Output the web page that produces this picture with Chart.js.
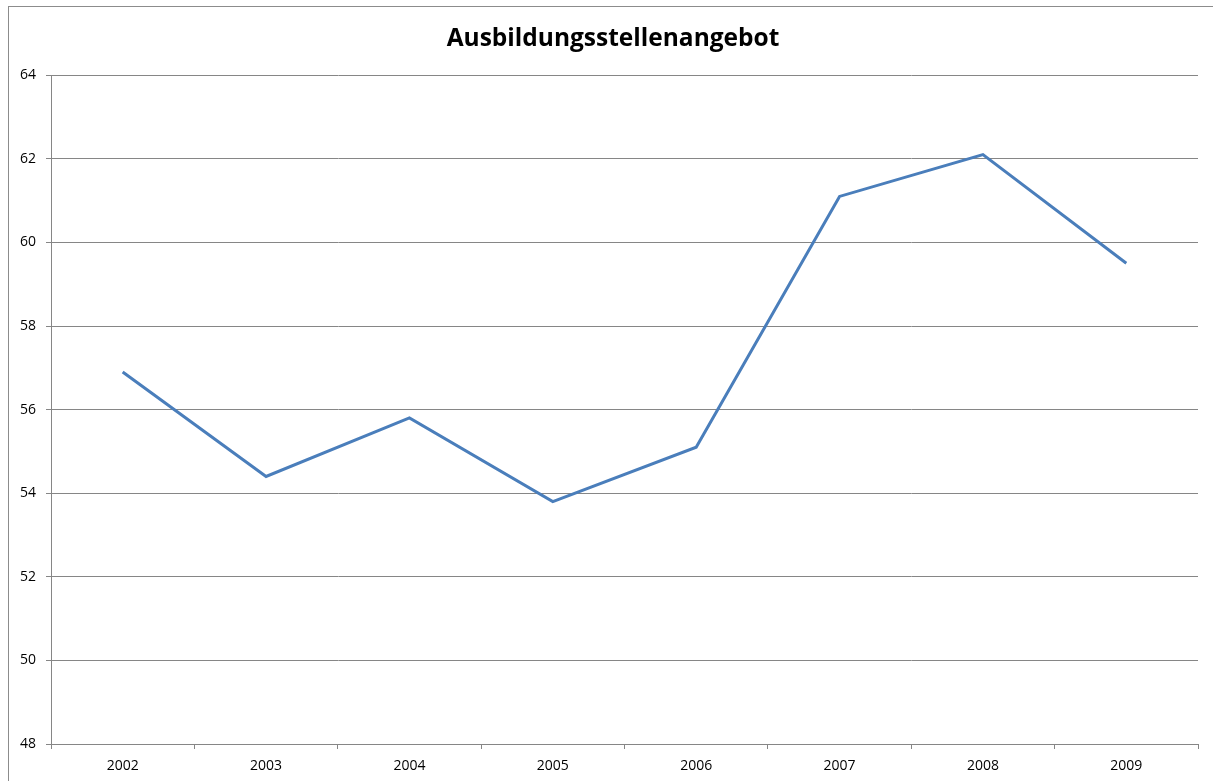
<!DOCTYPE html>
<html>
<head>
<meta charset="utf-8">
<script src="https://cdn.jsdelivr.net/npm/chart.js@4.4.1/dist/chart.umd.min.js"></script>
<style>
  body { margin: 0; background: #fff; }
  #wrap { position: relative; width: 1213px; height: 781px; overflow: hidden; }
  #frame { position: absolute; left: 8px; top: 6px; width: 1300px; height: 900px; border: 1px solid #8c8c8c; box-sizing: border-box; }
  canvas { position: absolute; left: 0; top: 0; }
</style>
</head>
<body>
<div id="wrap">
  <div id="frame"></div>
  <canvas id="lineChart" width="1213" height="781"></canvas>
</div>
<script>
// values
var years = ['2002', '2003', '2004', '2005', '2006', '2007', '2008', '2009'];
var offers = [56.9, 54.4, 55.8, 53.8, 55.1, 61.1, 62.1, 59.5];
var yMin = 48;
var yMax = 64;
var yStep = 2;

var axisGrey = '#868686';
var tickFont = { family: 'Open Sans', size: 14 };

// the original title sits a bit right of the canvas centre
var shiftTitle = {
  id: 'shiftTitle',
  afterLayout: function (chart) {
    if (chart.titleBlock) { chart.titleBlock.left += 28; }
  }
};

var ctx = document.getElementById('lineChart');
var myLineChart = new Chart(ctx, {
  type: 'line',
  data: {
    labels: years,
    datasets: [{
      label: 'Ausbildungsstellenangebot',
      data: offers,
      borderColor: '#4a7ebb',
      borderWidth: 3,
      pointRadius: 0,
      tension: 0,
      fill: false
    }]
  },
  plugins: [shiftTitle],
  options: {
    responsive: false,
    animation: false,
    layout: { padding: { left: 0, right: 15, top: 0, bottom: 0 } },
    plugins: {
      legend: { display: false },
      tooltip: { enabled: false },
      title: {
        display: true,
        text: 'Ausbildungsstellenangebot',
        color: '#000',
        font: { family: 'Open Sans', size: 24.5, weight: 'bold' },
        padding: { top: 24, bottom: 21.8 }
      }
    },
    scales: {
      x: {
        offset: true,
        grid: {
          offset: true,
          drawOnChartArea: false,
          drawTicks: true,
          tickLength: 5,
          color: axisGrey
        },
        border: { color: axisGrey, width: 1 },
        ticks: { color: '#000', font: tickFont, padding: 9, maxRotation: 0 },
        afterFit: function (scale) { scale.height = 37; }
      },
      y: {
        min: yMin,
        max: yMax,
        grid: { color: axisGrey, tickLength: 5 },
        border: { color: axisGrey, width: 1 },
        ticks: { stepSize: yStep, color: '#000', font: tickFont, padding: 10 },
        afterFit: function (scale) { scale.width = 51; }
      }
    }
  }
});
</script>
</body>
</html>
